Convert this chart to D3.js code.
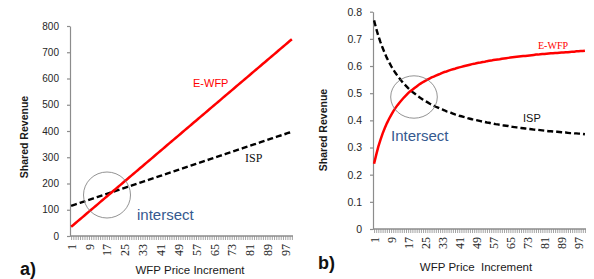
<!DOCTYPE html>
<html>
<head>
<meta charset="utf-8">
<script src="https://cdn.jsdelivr.net/npm/d3@7"></script>
<style>
  body { margin: 0; background: #fff; }
  svg { display: block; }
</style>
</head>
<body>
<div id="chart"></div>
<script>
// categories 1..100 (WFP price increment)
const increments = Array.from({ length: 100 }, (_, i) => i + 1)
const tickLabels = [1, 9, 17, 25, 33, 41, 49, 57, 65, 73, 81, 89, 97]

// panel a) values
const ewfpA = [35.0, 42.2, 49.4, 56.7, 63.9, 71.1, 78.3, 85.5, 92.8, 100.0,
  107.2, 114.4, 121.6, 128.9, 136.1, 143.3, 150.5, 157.7, 165.0, 172.2,
  179.4, 186.6, 193.8, 201.1, 208.3, 215.5, 222.7, 229.9, 237.2, 244.4,
  251.6, 258.8, 266.0, 273.3, 280.5, 287.7, 294.9, 302.1, 309.4, 316.6,
  323.8, 331.0, 338.2, 345.5, 352.7, 359.9, 367.1, 374.3, 381.6, 388.8,
  396.0, 403.2, 410.4, 417.7, 424.9, 432.1, 439.3, 446.5, 453.8, 461.0,
  468.2, 475.4, 482.6, 489.9, 497.1, 504.3, 511.5, 518.7, 526.0, 533.2,
  540.4, 547.6, 554.8, 562.1, 569.3, 576.5, 583.7, 590.9, 598.2, 605.4,
  612.6, 619.8, 627.0, 634.3, 641.5, 648.7, 655.9, 663.1, 670.4, 677.6,
  684.8, 692.0, 699.2, 706.5, 713.7, 720.9, 728.1, 735.3, 742.6, 749.8]
const ispA = [115.0, 117.9, 120.7, 123.6, 126.4, 129.3, 132.1, 135.0, 137.8, 140.7,
  143.5, 146.4, 149.2, 152.1, 154.9, 157.8, 160.6, 163.5, 166.3, 169.2,
  172.0, 174.9, 177.7, 180.6, 183.4, 186.3, 189.1, 192.0, 194.8, 197.7,
  200.5, 203.4, 206.2, 209.1, 211.9, 214.8, 217.6, 220.5, 223.3, 226.2,
  229.0, 231.9, 234.7, 237.6, 240.4, 243.3, 246.1, 249.0, 251.8, 254.7,
  257.5, 260.4, 263.2, 266.1, 268.9, 271.8, 274.6, 277.5, 280.3, 283.2,
  286.0, 288.9, 291.7, 294.6, 297.4, 300.3, 303.1, 306.0, 308.8, 311.7,
  314.5, 317.4, 320.2, 323.1, 325.9, 328.8, 331.6, 334.5, 337.3, 340.2,
  343.0, 345.9, 348.7, 351.6, 354.4, 357.3, 360.1, 363.0, 365.8, 368.7,
  371.5, 374.4, 377.2, 380.1, 382.9, 385.8, 388.6, 391.5, 394.3, 397.2]

// panel b) values
const ewfpB = [0.240, 0.273, 0.303, 0.328, 0.351, 0.371, 0.389, 0.405, 0.419, 0.433,
  0.445, 0.456, 0.466, 0.475, 0.484, 0.492, 0.500, 0.507, 0.513, 0.519,
  0.525, 0.531, 0.536, 0.541, 0.545, 0.550, 0.554, 0.558, 0.561, 0.565,
  0.568, 0.571, 0.575, 0.578, 0.580, 0.583, 0.586, 0.588, 0.590, 0.593,
  0.595, 0.597, 0.599, 0.601, 0.603, 0.605, 0.607, 0.608, 0.610, 0.612,
  0.613, 0.615, 0.616, 0.618, 0.619, 0.620, 0.622, 0.623, 0.624, 0.625,
  0.627, 0.628, 0.629, 0.630, 0.631, 0.632, 0.633, 0.634, 0.635, 0.636,
  0.637, 0.637, 0.638, 0.639, 0.640, 0.641, 0.642, 0.642, 0.643, 0.644,
  0.644, 0.645, 0.646, 0.647, 0.647, 0.648, 0.648, 0.649, 0.650, 0.650,
  0.651, 0.651, 0.652, 0.653, 0.653, 0.654, 0.654, 0.655, 0.655, 0.656]
const ispB = [0.768, 0.738, 0.711, 0.688, 0.667, 0.648, 0.630, 0.615, 0.600, 0.587,
  0.575, 0.564, 0.554, 0.544, 0.535, 0.527, 0.519, 0.512, 0.505, 0.499,
  0.492, 0.487, 0.481, 0.476, 0.471, 0.467, 0.462, 0.458, 0.454, 0.450,
  0.447, 0.443, 0.440, 0.437, 0.433, 0.431, 0.428, 0.425, 0.422, 0.420,
  0.417, 0.415, 0.413, 0.411, 0.408, 0.406, 0.404, 0.403, 0.401, 0.399,
  0.397, 0.395, 0.394, 0.392, 0.391, 0.389, 0.388, 0.386, 0.385, 0.384,
  0.382, 0.381, 0.380, 0.379, 0.377, 0.376, 0.375, 0.374, 0.373, 0.372,
  0.371, 0.370, 0.369, 0.368, 0.367, 0.366, 0.365, 0.365, 0.364, 0.363,
  0.362, 0.361, 0.360, 0.360, 0.359, 0.358, 0.358, 0.357, 0.356, 0.355,
  0.355, 0.354, 0.353, 0.353, 0.352, 0.352, 0.351, 0.351, 0.350, 0.349]

const axisGray = "#8c8c8c"
const sans = "'Liberation Sans', Arial, sans-serif"
const serif = "'Liberation Serif', 'Times New Roman', serif"

var svg = d3.select("#chart").append("svg")
  .attr("width", 594)
  .attr("height", 279)

function drawPanel(p) {
  var x = d3.scalePoint().domain(increments).range([p.left, p.right]).padding(0.5)
  var y = d3.scaleLinear().domain(p.yDomain).range([p.bottom, p.top])
  var g = svg.append("g")

  // y axis
  var yAxis = g.append("g")
    .attr("transform", "translate(" + p.left + ",0)")
    .call(d3.axisLeft(y).tickValues(p.yTicks).tickSize(3).tickSizeOuter(0).tickPadding(p.yPad)
      .tickFormat(p.yFormat))
  yAxis.selectAll("path, line").attr("stroke", axisGray).attr("stroke-width", 1.2)
  yAxis.selectAll("text").style("font-family", sans).style("font-size", p.yFont + "px").attr("fill", "#262626")

  // x axis: a tick per category, labels every 8th
  var xAxis = g.append("g")
    .attr("transform", "translate(0," + p.bottom + ")")
    .call(d3.axisBottom(x).tickValues(increments).tickSize(4).tickSizeOuter(0)
      .tickFormat(d => tickLabels.includes(d) ? d : ""))
  xAxis.select("path").attr("stroke", axisGray).attr("stroke-width", 1.5)
    .attr("d", "M" + p.left + ",0H" + p.right)
  xAxis.selectAll("line").attr("stroke", axisGray).attr("stroke-width", 0.8)
  xAxis.selectAll("text")
    .style("font-family", serif).style("font-size", "12px").attr("fill", "#262626")
    .attr("text-anchor", "end")
    .attr("transform", "rotate(-90)")
    .attr("x", -8).attr("y", 0).attr("dy", "0.35em")

  var line = d3.line().x((d, i) => x(increments[i])).y(d => y(d))

  g.append("path").datum(p.isp)
    .attr("d", line).attr("fill", "none")
    .attr("stroke", "#000").attr("stroke-width", 2.4).attr("stroke-dasharray", "6,3")
  g.append("path").datum(p.ewfp)
    .attr("d", line).attr("fill", "none")
    .attr("stroke", "#ff0000").attr("stroke-width", 2.5)

  // intersect ellipse
  g.append("ellipse")
    .attr("cx", p.ell[0]).attr("cy", p.ell[1]).attr("rx", p.ell[2]).attr("ry", p.ell[3])
    .attr("fill", "none").attr("stroke", "#777").attr("stroke-width", 0.8)

  // titles
  g.append("text")
    .attr("transform", "translate(" + p.yTitle[0] + "," + p.yTitle[1] + ") rotate(-90)")
    .attr("text-anchor", "middle").attr("dy", "0.35em")
    .style("font-family", sans).style("font-size", "10.5px").style("font-weight", "bold")
    .attr("fill", "#1a1a1a").text("Shared Revenue")
  g.append("text")
    .attr("x", p.xTitle[0]).attr("y", p.xTitle[1])
    .attr("text-anchor", "middle")
    .style("font-family", sans).style("font-size", "11.5px").style("white-space", "pre")
    .attr("fill", "#1a1a1a").text(p.xTitleText)
  g.append("text")
    .attr("x", p.tag[0]).attr("y", p.tag[1])
    .style("font-family", sans).style("font-size", "18px").style("font-weight", "bold")
    .attr("fill", "#111").text(p.tagText)

  // annotations
  for (const a of p.notes) {
    g.append("text")
      .attr("x", a.x).attr("y", a.y).attr("dy", "0.35em")
      .style("font-family", a.font).style("font-size", a.size + "px")
      .attr("fill", a.color).text(a.text)
  }
}

drawPanel({
  left: 70, right: 293, top: 26, bottom: 236,
  yDomain: [0, 800], yTicks: d3.range(0, 801, 100), yFormat: d3.format("d"), yFont: 10, yPad: 8,
  ewfp: ewfpA, isp: ispA,
  ell: [107, 195, 23.5, 23],
  yTitle: [24, 137], xTitle: [190, 274], xTitleText: "WFP Price Increment",
  tag: [20, 275], tagText: "a)",
  notes: [
    { text: "E-WFP", x: 193, y: 83, font: sans, size: 11, color: "#ff0000" },
    { text: "ISP", x: 245, y: 158, font: serif, size: 12, color: "#111" },
    { text: "intersect", x: 137, y: 215, font: sans, size: 15, color: "#35598f" }
  ]
})

drawPanel({
  left: 373, right: 586, top: 11.7, bottom: 229,
  yDomain: [0, 0.8], yTicks: d3.range(0, 9).map(d => d / 10), yFormat: d => d === 0 ? "0" : d3.format(".1f")(d), yFont: 10.5, yPad: 8,
  ewfp: ewfpB, isp: ispB,
  ell: [414, 97, 23.3, 21.2],
  yTitle: [323, 130], xTitle: [476, 271], xTitleText: "WFP Price  Increment",
  tag: [318, 269], tagText: "b)",
  notes: [
    { text: "E-WFP", x: 538, y: 45, font: serif, size: 10, color: "#ff0000" },
    { text: "ISP", x: 523, y: 118, font: sans, size: 11, color: "#111" },
    { text: "Intersect", x: 391, y: 136, font: sans, size: 15, color: "#35598f" }
  ]
})
</script>
</body>
</html>
